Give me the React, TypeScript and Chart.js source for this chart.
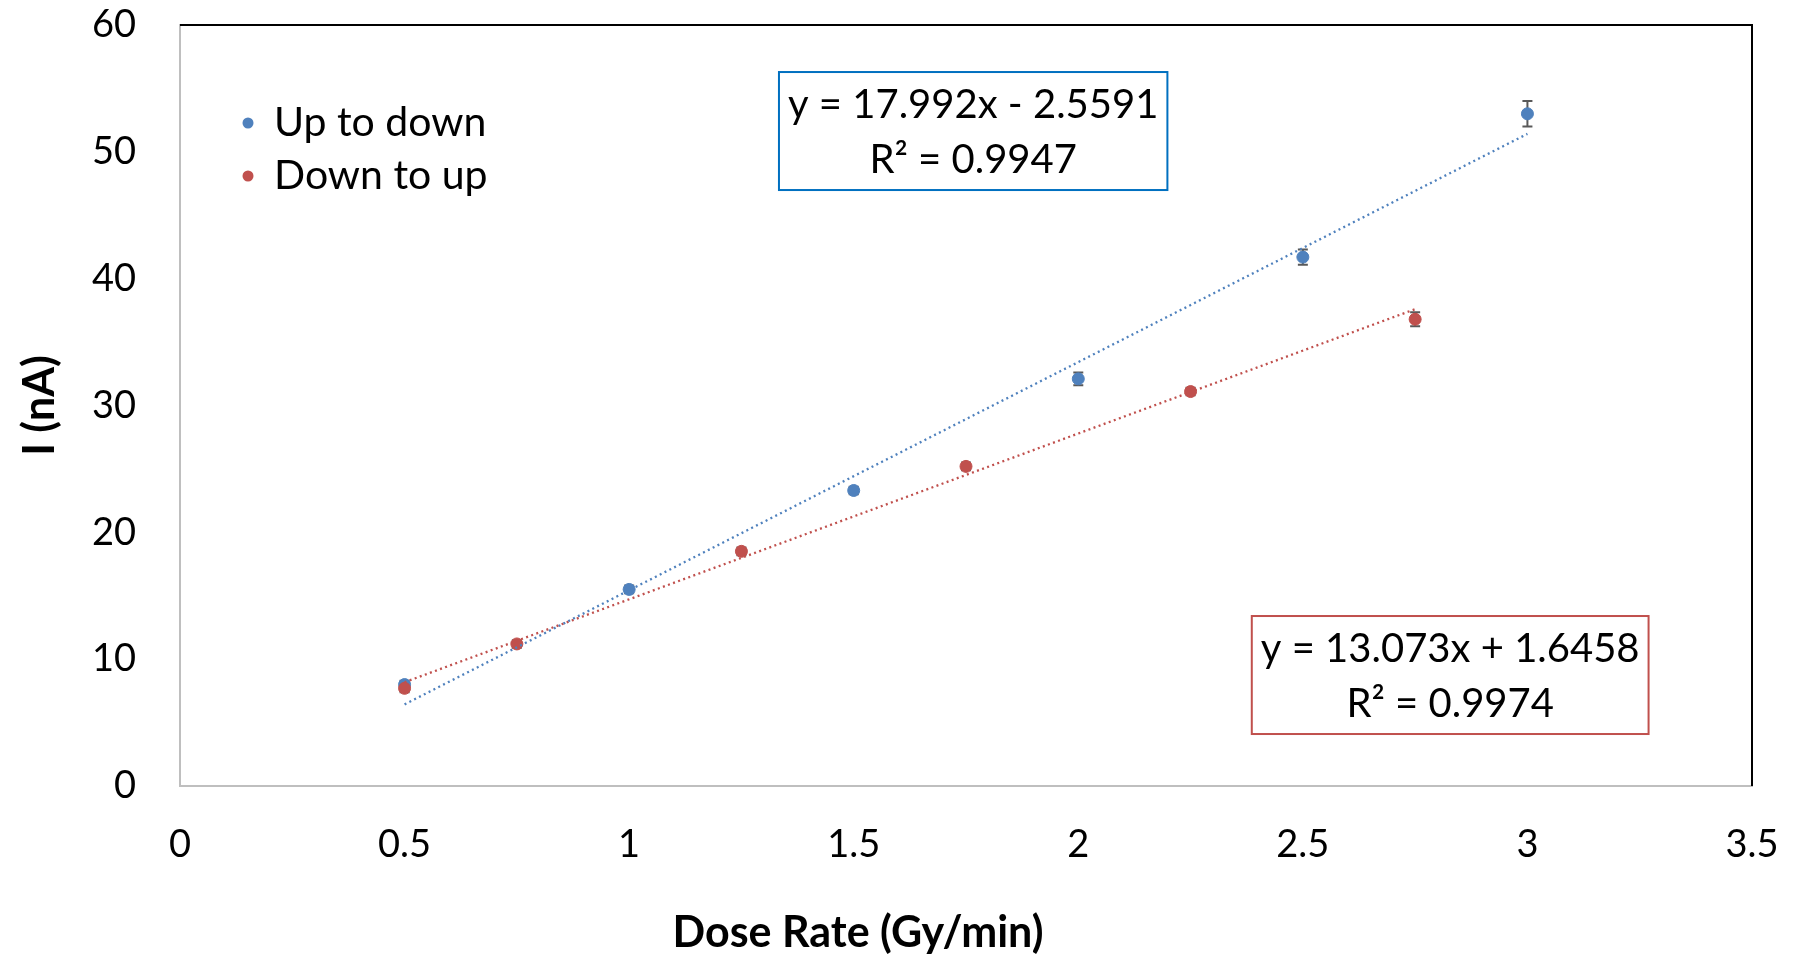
import React, { useEffect, useRef } from "react";
import { Chart, registerables } from "chart.js";

Chart.register(...registerables);

// ---------- data ----------
const seriesNames = ["Up to down", "Down to up"];
const upDoseRates = [0.5, 1, 1.5, 2, 2.5, 3];
const upCurrents = [8.0, 15.5, 23.3, 32.1, 41.7, 53.0];
const upErrors = [0.3, 0.3, 0.3, 0.5, 0.6, 1.0];
const downDoseRates = [0.5, 0.75, 1.25, 1.75, 2.25, 2.75];
const downCurrents = [7.7, 11.2, 18.5, 25.2, 31.1, 36.8];
const downErrors = [0.3, 0.3, 0.3, 0.3, 0.3, 0.55];
// trendline coefficients [slope, intercept] as printed on the chart
const upFit = [17.992, -2.5591];
const downFit = [13.073, 1.6458];
const upFitLabel = ["y = 17.992x - 2.5591", "R² = 0.9947"];
const downFitLabel = ["y = 13.073x + 1.6458", "R² = 0.9974"];
const xTicks = [0, 0.5, 1, 1.5, 2, 2.5, 3, 3.5];
const yTicks = [0, 10, 20, 30, 40, 50, 60];
const xTitle = "Dose Rate (Gy/min)";
const yTitle = "I (nA)";

// ---------- styles ----------
const BLUE = "#4F81BD";
const RED = "#C0504D";
const FONT = "Lato, 'Open Sans', sans-serif";
const FS = 38;
const FS_EQ = 40;
const FS_LEG = 41;
const FS_TITLE = 43;

const fitLine = (fit: number[], xs: number[]) => {
  const x0 = Math.min(...xs);
  const x1 = Math.max(...xs);
  return [
    { x: x0, y: fit[0] * x0 + fit[1] },
    { x: x1, y: fit[0] * x1 + fit[1] },
  ];
};

const decorPlugin = {
  id: "decor",
  beforeDatasetsDraw(chart: any) {
    const { ctx, chartArea: a, scales } = chart;
    const xs = scales.x;
    const ys = scales.y;
    ctx.save();
    // top and right border
    ctx.strokeStyle = "#000";
    ctx.lineWidth = 2;
    ctx.beginPath();
    ctx.moveTo(a.left, a.top);
    ctx.lineTo(a.right, a.top);
    ctx.lineTo(a.right, a.bottom);
    ctx.stroke();
    // error bars
    ctx.strokeStyle = "#595959";
    ctx.lineWidth = 2;
    const drawErr = (xv: number[], yv: number[], ev: number[]) => {
      xv.forEach((x, i) => {
        const px = xs.getPixelForValue(x);
        const pTop = ys.getPixelForValue(yv[i] + ev[i]);
        const pBot = ys.getPixelForValue(yv[i] - ev[i]);
        ctx.beginPath();
        ctx.moveTo(px, pTop);
        ctx.lineTo(px, pBot);
        ctx.moveTo(px - 5, pTop);
        ctx.lineTo(px + 5, pTop);
        ctx.moveTo(px - 5, pBot);
        ctx.lineTo(px + 5, pBot);
        ctx.stroke();
      });
    };
    drawErr(upDoseRates, upCurrents, upErrors);
    drawErr(downDoseRates, downCurrents, downErrors);
    ctx.restore();
  },
  afterDraw(chart: any) {
    const { ctx, chartArea: a, scales } = chart;
    const xs = scales.x;
    const ys = scales.y;
    ctx.save();
    ctx.textBaseline = "middle";
    // legend
    const colors = [BLUE, RED];
    seriesNames.forEach((name, i) => {
      const cy = a.top + 98 + i * 53;
      ctx.fillStyle = colors[i];
      ctx.beginPath();
      ctx.arc(a.left + 68, cy, 5.5, 0, Math.PI * 2);
      ctx.fill();
      ctx.fillStyle = "#000";
      ctx.font = `${FS_LEG}px ${FONT}`;
      ctx.textAlign = "left";
      ctx.fillText(name, a.left + 94, cy);
    });
    // equation boxes
    const drawBox = (lines: string[], cx: number, cy: number, color: string) => {
      ctx.font = `${FS_EQ}px ${FONT}`;
      const w = Math.max(...lines.map((l) => ctx.measureText(l).width)) + 18;
      const h = 118;
      ctx.fillStyle = "#fff";
      ctx.fillRect(cx - w / 2, cy - h / 2, w, h);
      ctx.strokeStyle = color;
      ctx.lineWidth = 2;
      ctx.strokeRect(cx - w / 2, cy - h / 2, w, h);
      ctx.fillStyle = "#000";
      ctx.textAlign = "center";
      lines.forEach((l, i) => ctx.fillText(l, cx, cy - 26 + i * 55));
    };
    drawBox(upFitLabel, xs.getPixelForValue(1.766), ys.getPixelForValue(51.64), "#0070C0");
    drawBox(downFitLabel, xs.getPixelForValue(2.828), ys.getPixelForValue(8.75), RED);
    // axis titles
    ctx.fillStyle = "#000";
    ctx.font = `bold ${FS_TITLE}px ${FONT}`;
    ctx.textAlign = "center";
    ctx.fillText(xTitle, a.left + 678, 933);
    ctx.translate(40, (a.top + a.bottom) / 2);
    ctx.rotate(-Math.PI / 2);
    ctx.fillText(yTitle, 0, 0);
    ctx.restore();
  },
};

export default function App() {
  const ref = useRef<HTMLCanvasElement>(null);
  useEffect(() => {
    document.body.style.margin = "0";
    const chart = new Chart(ref.current!, {
      type: "scatter",
      data: {
        datasets: [
          {
            label: seriesNames[0] + " trend",
            type: "line",
            data: fitLine(upFit, upDoseRates),
            borderColor: BLUE,
            borderWidth: 2.3,
            borderDash: [2, 3.4],
            pointRadius: 0,
            fill: false,
            order: 0,
          },
          {
            label: seriesNames[1] + " trend",
            type: "line",
            data: fitLine(downFit, downDoseRates),
            borderColor: RED,
            borderWidth: 2.3,
            borderDash: [2, 3.4],
            pointRadius: 0,
            fill: false,
            order: 0,
          },
          {
            label: seriesNames[1],
            data: downDoseRates.map((x, i) => ({ x, y: downCurrents[i] })),
            backgroundColor: RED,
            borderColor: RED,
            pointRadius: 6,
            order: 1,
          },
          {
            label: seriesNames[0],
            data: upDoseRates.map((x, i) => ({ x, y: upCurrents[i] })),
            backgroundColor: BLUE,
            borderColor: BLUE,
            pointRadius: 6,
            order: 2,
          },
        ],
      },
      options: {
        animation: false,
        responsive: false,
        layout: { padding: { top: 25, right: 47, left: 0, bottom: 0 } },
        plugins: { legend: { display: false }, tooltip: { enabled: false } },
        scales: {
          x: {
            type: "linear",
            min: xTicks[0],
            max: xTicks[xTicks.length - 1],
            afterFit: (s: any) => {
              s.height = 170;
              s.paddingLeft = 0;
              s.paddingRight = 0;
            },
            afterBuildTicks: (s: any) => {
              s.ticks = xTicks.map((v) => ({ value: v }));
            },
            ticks: {
              font: { family: FONT, size: FS },
              color: "#000",
              padding: 36,
              callback: (v: any) => String(v),
            },
            grid: { display: false, drawTicks: false },
            border: { color: "#BFBFBF", width: 2 },
          },
          y: {
            type: "linear",
            min: yTicks[0],
            max: yTicks[yTicks.length - 1],
            afterFit: (s: any) => {
              s.width = 180;
              s.paddingTop = 0;
              s.paddingBottom = 0;
            },
            afterBuildTicks: (s: any) => {
              s.ticks = yTicks.map((v) => ({ value: v }));
            },
            ticks: {
              font: { family: FONT, size: FS },
              color: "#000",
              padding: 44,
              callback: (v: any) => String(v),
            },
            grid: { display: false, drawTicks: false },
            border: { color: "#BFBFBF", width: 2 },
          },
        },
      },
      plugins: [decorPlugin],
    } as any);
    return () => chart.destroy();
  }, []);
  return <canvas ref={ref} width={1799} height={956} style={{ display: "block" }} />;
}
